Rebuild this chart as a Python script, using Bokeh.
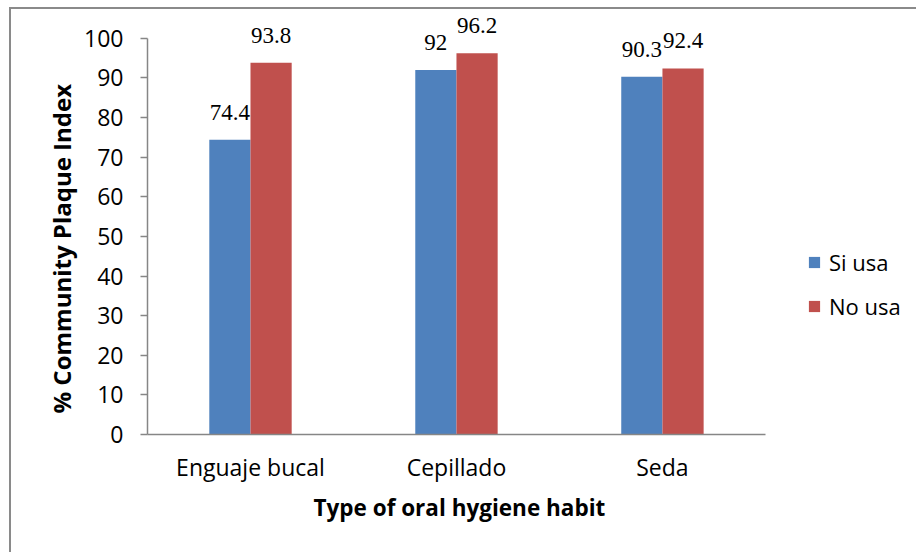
from bokeh.plotting import figure
from bokeh.models import (ColumnDataSource, Range1d, FixedTicker,
                          LabelSet, Legend, LegendItem, Title)
from bokeh.embed import file_html
from bokeh.resources import INLINE

categories = ["Enguaje bucal", "Cepillado", "Seda"]
si_usa = [74.4, 92.0, 90.3]
no_usa = [93.8, 96.2, 92.4]
series_names = ["Si usa", "No usa"]
y_ticks = [0, 10, 20, 30, 40, 50, 60, 70, 80, 90, 100]

FONT = "Open Sans"
BLUE = "#4F81BD"
RED = "#C0504D"
GRAY = "#868686"
EDGE = "#8a8a8a"

centers = [i + 0.5 for i in range(len(categories))]
src = ColumnDataSource(dict(
    xc=centers,
    xs=[c - 0.1 for c in centers],
    xn=[c + 0.1 for c in centers],
    si=si_usa,
    no=no_usa,
    si_lbl=[f"{v:g}" for v in si_usa],
    no_lbl=[f"{v:g}" for v in no_usa],
))

p = figure(x_range=Range1d(0, 3.714), y_range=Range1d(0, 106),
           width=907, height=545, output_backend="svg", toolbar_location=None,
           min_border_left=138, min_border_right=4, min_border_top=7,
           min_border_bottom=118)
p.styles = {
    "margin-top": "7px", "margin-left": "9px",
    "background": (f"linear-gradient({EDGE},{EDGE}) left top / 100% 2px no-repeat, "
                   f"linear-gradient({EDGE},{EDGE}) left top / 2px 100% no-repeat, white"),
}
p.border_fill_alpha = 0

p.xgrid.grid_line_color = None
p.ygrid.grid_line_color = None
p.outline_line_color = None

r1 = p.vbar(x="xs", top="si", width=0.2, source=src,
            fill_color=BLUE, line_color=None)
r2 = p.vbar(x="xn", top="no", width=0.2, source=src,
            fill_color=RED, line_color=None)

for xcol, top, col in (("xs", "si", "si_lbl"), ("xn", "no", "no_lbl")):
    lbl = LabelSet(x=xcol, y=top, text=col, source=src,
                   text_align="center", text_baseline="alphabetic",
                   y_offset=20, text_font=FONT, text_font_size="23px",
                   text_color="black")
    p.add_layout(lbl)

# y axis
ya = p.yaxis[0]
ya.bounds = (0, 100)
ya.ticker = FixedTicker(ticks=y_ticks)
ya.minor_tick_line_color = None
ya.major_tick_in = 0
ya.major_tick_out = 7
ya.major_tick_line_color = GRAY
ya.major_tick_line_width = 1.5
ya.axis_line_color = GRAY
ya.axis_line_width = 1.5
ya.major_label_text_font = FONT
ya.major_label_text_font_size = "23px"
ya.major_label_text_color = "black"
ya.major_label_standoff = 17

ytitle = Title(text="% Community Plaque Index", align="left", offset=21,
               text_font=FONT, text_font_size="24px", text_font_style="bold",
               text_color="black", standoff=8)
p.add_layout(ytitle, "left")

# x axis
xa = p.xaxis[0]
xa.bounds = (0, len(categories))
xa.ticker = FixedTicker(ticks=centers)
xa.major_label_overrides = {c: name for c, name in zip(centers, categories)}
xa.major_tick_line_color = None
xa.minor_tick_line_color = None
xa.major_tick_in = 0
xa.major_tick_out = 0
xa.axis_line_color = GRAY
xa.axis_line_width = 1.5
xa.major_label_text_font = FONT
xa.major_label_text_font_size = "23px"
xa.major_label_text_color = "black"
xa.major_label_standoff = 16

xtitle = Title(text="Type of oral hygiene habit", align="left", offset=166,
               text_font=FONT, text_font_size="22.5px", text_font_style="bold",
               text_color="black", standoff=8)
p.add_layout(xtitle, "below")

legend = Legend(items=[LegendItem(label=series_names[0], renderers=[r1]),
                       LegendItem(label=series_names[1], renderers=[r2])],
                location=(660, 113))
legend.padding = 0
legend.margin = 0
legend.border_line_color = None
legend.background_fill_alpha = 0
legend.glyph_width = 14
legend.glyph_height = 14
legend.label_height = 22
legend.spacing = 14
legend.label_standoff = 8
legend.label_text_font = FONT
legend.label_text_font_size = "22px"
legend.label_text_color = "black"
p.add_layout(legend, "center")

open("out.html", "w").write(file_html(p, INLINE))
